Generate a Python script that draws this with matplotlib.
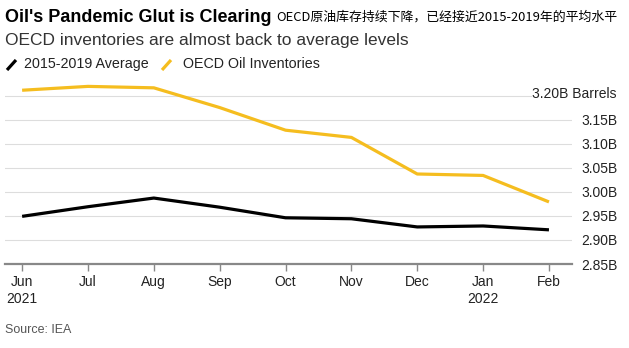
import matplotlib.pyplot as plt
from matplotlib.lines import Line2D

# monthly OECD stocks vs the 2015-2019 average, billions of barrels
months = ["Jun\n2021", "Jul", "Aug", "Sep", "Oct", "Nov", "Dec", "Jan\n2022", "Feb"]
avg_2015_2019 = [2.949, 2.969, 2.987, 2.968, 2.946, 2.944, 2.927, 2.929, 2.921]
oecd_stocks = [3.211, 3.219, 3.216, 3.175, 3.128, 3.113, 3.037, 3.034, 2.979]
yticks = [2.85, 2.90, 2.95, 3.00, 3.05, 3.10, 3.15, 3.20]

plt.rcParams['font.family'] = ['Liberation Sans', 'Noto Sans CJK SC', 'DejaVu Sans']

W, H = 629, 348
YELLOW = '#f5bd1f'
fig = plt.figure(figsize=(W / 100, H / 100), dpi=100)
ax = fig.add_axes([5 / W, 84 / H, 567 / W, 180.5 / H])

x = list(range(len(months)))
ax.plot(x, avg_2015_2019, color='black', lw=2.3, solid_capstyle='butt', zorder=3)
ax.plot(x, oecd_stocks, color=YELLOW, lw=2.3, solid_capstyle='butt', zorder=3)

ax.set_xlim(-0.26, 8.35)
ax.set_ylim(2.85, 3.225)
ax.set_xticks(x)
ax.set_xticklabels(months, fontsize=10, color='#222222', linespacing=1.3)
ax.set_yticks(yticks)
ax.set_yticklabels([f"{v:.2f}B" for v in yticks[:-1]] + [""], fontsize=10, color='#222222')
ax.yaxis.tick_right()
ax.tick_params(axis='y', length=0, pad=7)
ax.tick_params(axis='x', length=5, width=1, color='#888888', pad=3)
ax.grid(axis='y', color='#dddddd', lw=0.8)
for s in ['top', 'left', 'right']:
    ax.spines[s].set_visible(False)
ax.spines['bottom'].set_color('#888888')
ax.spines['bottom'].set_linewidth(1.6)

# top tick label carries the unit
fig.text(617 / W, 1 - 94 / H, "3.20B Barrels", ha='right', va='center', fontsize=10,
         color='#222222', bbox=dict(facecolor='white', edgecolor='none', pad=0.5))

fig.text(5 / W, 1 - 17 / H, "Oil's Pandemic Glut is Clearing", fontsize=13,
         fontweight='bold', va='center', color='black')
fig.text(276 / W, 1 - 17 / H, "OECD原油库存持续下降，已经接近2015-2019年的平均水平",
         fontsize=9.3, va='center', color='black',
         family=['Noto Sans CJK SC', 'DejaVu Sans'])
fig.text(5 / W, 1 - 40 / H, "OECD inventories are almost back to average levels",
         fontsize=12.5, va='center', color='#333333')

# legend row: short slanted strokes as keys
for x0, col in [(7, 'black'), (162, YELLOW)]:
    fig.add_artist(Line2D([x0 / W, (x0 + 9) / W], [1 - 70 / H, 1 - 60 / H],
                          color=col, lw=2.3, solid_capstyle='butt',
                          transform=fig.transFigure))
fig.text(24 / W, 1 - 64 / H, "2015-2019 Average", fontsize=10.3, va='center', color='#222222')
fig.text(183 / W, 1 - 64 / H, "OECD Oil Inventories", fontsize=10.3, va='center', color='#222222')

fig.text(5 / W, 1 - 330 / H, "Source: IEA", fontsize=9, va='center', color='#555555')

fig.savefig("out.png", dpi=100, facecolor='white')
